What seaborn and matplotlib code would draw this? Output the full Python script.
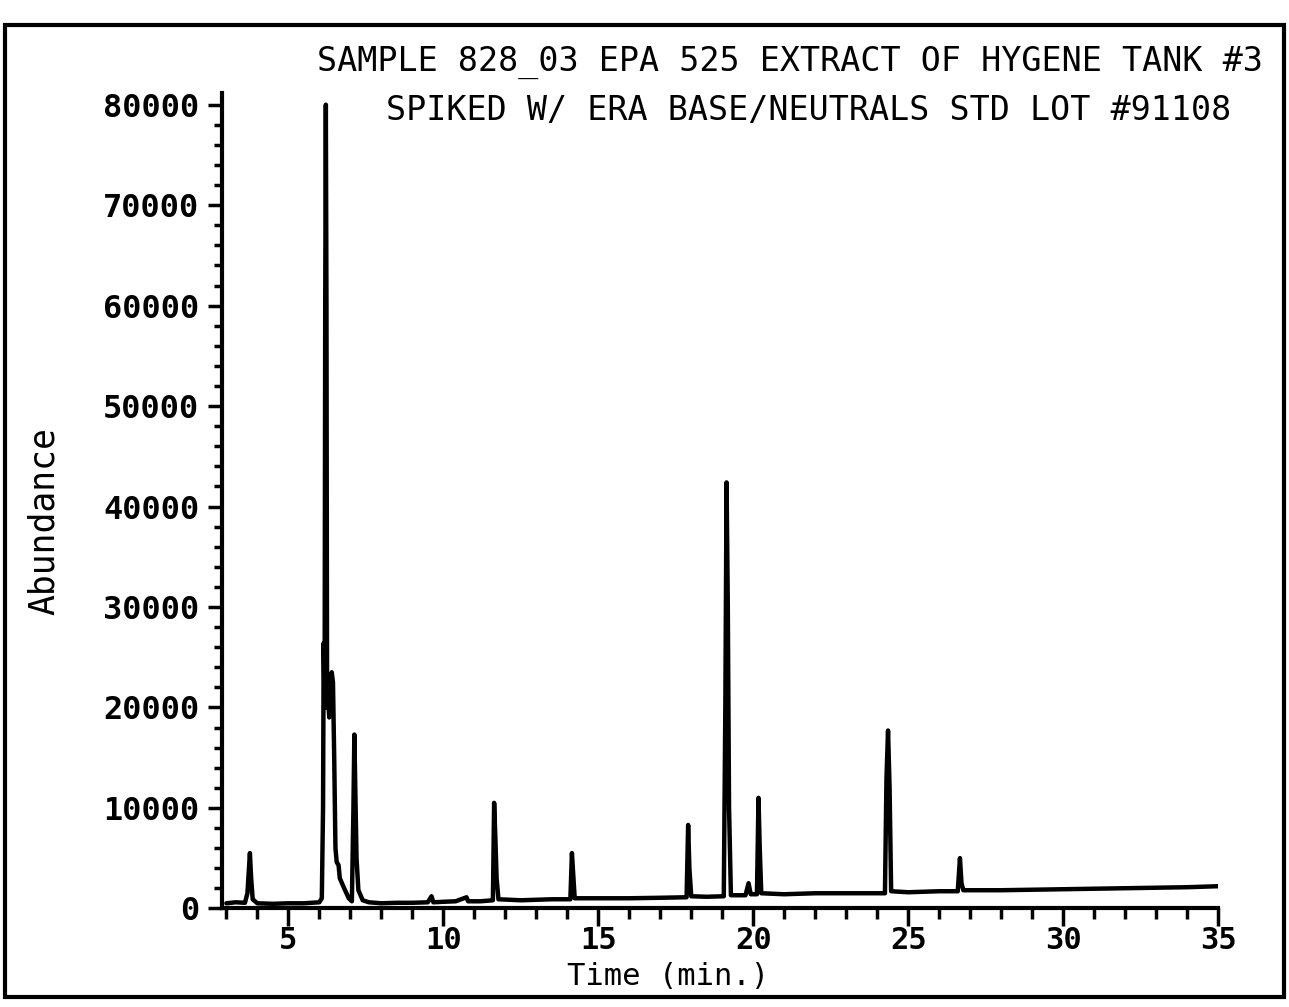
import matplotlib
matplotlib.use("Agg")
import matplotlib.pyplot as plt
from matplotlib.patches import Rectangle
from matplotlib.ticker import MultipleLocator
import seaborn as sns
import pandas as pd

# -------------------------------
# chromatogram trace
# -------------------------------
time_min = [
    3.0, 3.3, 3.6, 3.68, 3.72, 3.76, 3.80, 3.85, 4.0, 4.5, 5.0, 5.5, 6.0,
    6.08, 6.12, 6.14, 6.17, 6.19, 6.21, 6.23, 6.25, 6.28, 6.32, 6.36, 6.40,
    6.44, 6.48, 6.52, 6.56, 6.62, 6.66, 6.80, 6.95, 7.05, 7.10, 7.13, 7.16,
    7.20, 7.26, 7.40, 7.6, 8.0, 8.5, 9.0, 9.5, 9.62, 9.68, 10.0, 10.4, 10.75,
    10.8, 11.2, 11.6, 11.64, 11.68, 11.72, 11.78, 12.5, 13.0, 13.5, 14.1,
    14.15, 14.19, 14.24, 15.0, 16.0, 17.0, 17.85, 17.9, 17.94, 18.0, 18.5,
    19.05, 19.1, 19.14, 19.18, 19.22, 19.28, 19.75, 19.85, 19.92, 20.12,
    20.17, 20.21, 20.26, 21.0, 22.0, 23.0, 24.25, 24.3, 24.35, 24.4, 24.45,
    25.0, 26.0, 26.6, 26.67, 26.72, 26.78, 28.0, 30.0, 32.0, 34.0, 35.0,
]
abundance = [
    500, 600, 550, 1500, 3500, 5500, 3000, 900, 500, 450, 500, 500, 600,
    1000, 10000, 26400, 20000, 60000, 80000, 60000, 20000, 21000, 19000, 22000, 23500,
    22500, 15000, 6000, 4600, 4300, 3000, 2000, 1000, 700, 10000, 17300, 12000,
    5000, 1800, 800, 600, 500, 550, 550, 600, 1200, 600, 650, 700, 1100,
    700, 700, 800, 10500, 7000, 3000, 900, 800, 850, 900, 900,
    5500, 3500, 1000, 1000, 1000, 1050, 1100, 8300, 4000, 1200, 1150,
    1200, 20000, 42400, 30000, 10000, 1300, 1300, 2500, 1400, 1400,
    11000, 6000, 1500, 1400, 1500, 1500, 1500, 13000, 17700, 12000, 1700,
    1600, 1700, 1700, 5000, 2500, 1800, 1800, 1900, 2000, 2100, 2200,
]

title_lines = [
    "SAMPLE 828_03 EPA 525 EXTRACT OF HYGENE TANK #3",
    "SPIKED W/ ERA BASE/NEUTRALS STD LOT #91108",
]
y_ticks = list(range(0, 80001, 10000))
x_ticks = [5, 10, 15, 20, 25, 30, 35]

df = pd.DataFrame({"Time (min.)": time_min, "Abundance": abundance})

# -------------------------------
# style
# -------------------------------
sns.set_style("ticks")
plt.rcParams["font.family"] = ["DejaVu Sans Mono", "DejaVu Sans"]

fig = plt.figure(figsize=(12.89, 10.07), dpi=100)
ax = fig.add_axes([0.172, 0.098, 0.773, 0.810])

sns.lineplot(data=df, x="Time (min.)", y="Abundance", ax=ax,
             color="black", linewidth=3.2, sort=False)

ax.set_xlim(2.85, 35)
ax.set_ylim(0, 81200)
ax.set_xticks(x_ticks)
ax.set_yticks(y_ticks)
ax.xaxis.set_minor_locator(MultipleLocator(1))
ax.yaxis.set_minor_locator(MultipleLocator(2000))

sns.despine(ax=ax)
for side in ("left", "bottom"):
    ax.spines[side].set_linewidth(3)
    ax.spines[side].set_color("black")

ax.tick_params(axis="y", which="major", length=10, width=2.5, pad=6,
               labelsize=23, colors="black")
ax.tick_params(axis="y", which="minor", length=6, width=2.5, colors="black")
ax.tick_params(axis="x", which="major", length=13, width=2.5, pad=0,
               labelsize=22, colors="black")
ax.tick_params(axis="x", which="minor", length=8, width=2.5, colors="black")
for lab in ax.get_xticklabels() + ax.get_yticklabels():
    lab.set_fontweight("bold")

ax.set_xlabel("Time (min.)", fontsize=22, color="black", va="center")
ax.xaxis.set_label_coords(0.448, -0.083)
ax.set_ylabel("Abundance", fontsize=25, color="black", va="center")
ax.yaxis.set_label_coords(-0.178, 0.475)

fig.text(0.613, 0.938, title_lines[0], ha="center", va="center",
         fontsize=24, color="black")
fig.text(0.627, 0.890, title_lines[1], ha="center", va="center",
         fontsize=24, color="black")

# outer frame of the printout
fig.patches.append(Rectangle((0.004, 0.01), 0.992, 0.965, transform=fig.transFigure,
                             fill=False, linewidth=3, edgecolor="black"))

fig.savefig("out.png", dpi=100)
